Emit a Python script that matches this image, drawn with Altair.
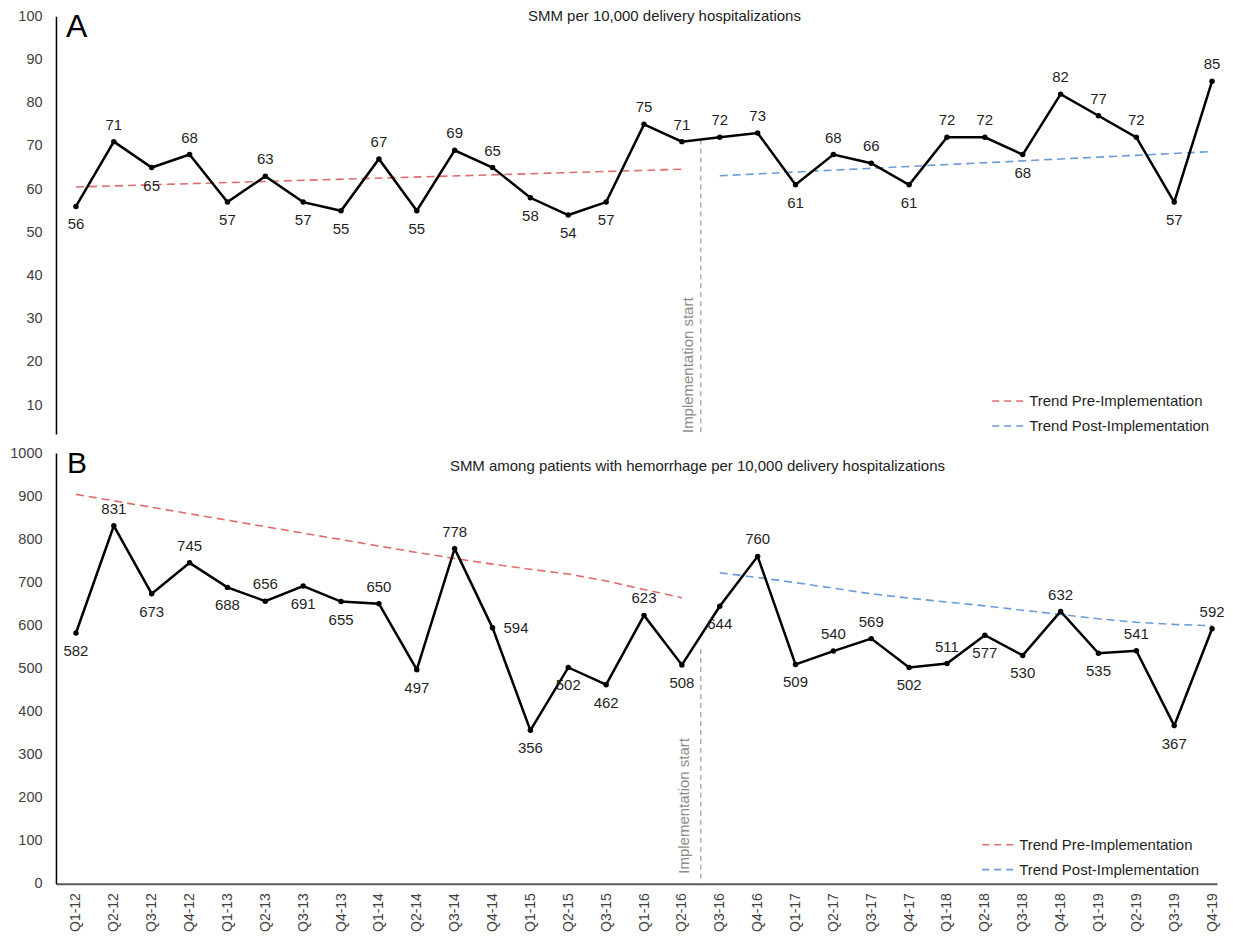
import json
import altair as alt
import pandas as pd

# ---------------- data ----------------
quarters = ["Q1-12", "Q2-12", "Q3-12", "Q4-12", "Q1-13", "Q2-13", "Q3-13", "Q4-13",
            "Q1-14", "Q2-14", "Q3-14", "Q4-14", "Q1-15", "Q2-15", "Q3-15", "Q1-16",
            "Q2-16", "Q3-16", "Q4-16", "Q1-17", "Q2-17", "Q3-17", "Q4-17", "Q1-18",
            "Q2-18", "Q3-18", "Q4-18", "Q1-19", "Q2-19", "Q3-19", "Q4-19"]

smm = [56, 71, 65, 68, 57, 63, 57, 55, 67, 55, 69, 65, 58, 54, 57, 75,
       71, 72, 73, 61, 68, 66, 61, 72, 72, 68, 82, 77, 72, 57, 85]
smm_label_side = ["below", "above", "below", "above", "below", "above", "below", "below",
                  "above", "below", "above", "above", "below", "below", "below", "above",
                  "above", "above", "above", "below", "above", "above", "below", "above",
                  "above", "below", "above", "above", "above", "below", "above"]

hem = [582, 831, 673, 745, 688, 656, 691, 655, 650, 497, 778, 594, 356, 502, 462, 623,
       508, 644, 760, 509, 540, 569, 502, 511, 577, 530, 632, 535, 541, 367, 592]
hem_label_side = ["below", "above", "below", "above", "below", "above", "below", "below",
                  "above", "below", "above", "right", "below", "below", "below", "above",
                  "below", "below", "above", "below", "above", "above", "below", "above",
                  "below", "below", "above", "below", "above", "below", "above"]

trend_pre_a_q = ["Q1-12", "Q2-16"]
trend_pre_a = [60.5, 64.6]
trend_post_a_q = ["Q3-16", "Q4-19"]
trend_post_a = [63.1, 68.7]

trend_pre_b_q = quarters[0:17]
trend_pre_b = [904, 889, 874, 859, 844, 829, 814, 799, 784, 769, 755, 742, 730, 719, 703, 683, 664]
trend_post_b_q = quarters[17:31]
trend_post_b = [722, 711, 699, 686, 673, 663, 654, 645, 635, 625, 615, 607, 602, 599]

impl_last_pre = "Q2-16"
impl_first_post = "Q3-16"

title_a = "SMM per 10,000 delivery hospitalizations"
title_b = "SMM among patients with hemorrhage per 10,000 delivery hospitalizations"
legend_labels = ["Trend Pre-Implementation", "Trend Post-Implementation"]

# ---------------- styling ----------------
FONT = "Liberation Sans"
RED = "#e06c6c"
BLUE = "#6a9bd8"
GRAY = "#a3a3a3"
W = 1162


def qidx(q):
    return quarters.index(q)


impl_x = (qidx(impl_last_pre) + qidx(impl_first_post)) / 2

x_scale = alt.Scale(domain=[-0.528, 30.13], nice=False, zero=False)


def x_enc(show_axis):
    if show_axis:
        axis = alt.Axis(
            values=list(range(len(quarters))),
            labelExpr=json.dumps(quarters) + "[datum.value]",
            labelAngle=-90, labelPadding=9, labelFontSize=14, labelColor="#404040",
            ticks=False, tickSize=0, grid=False, domainColor="#595959", domainWidth=2,
            labelOverlap=False, labelFlush=False, labelBound=False, title=None,
        )
    else:
        axis = None
    return alt.X("idx:Q", scale=x_scale, axis=axis)


def y_enc(domain, ticks):
    return alt.Y(
        "val:Q",
        scale=alt.Scale(domain=domain, nice=False, zero=False),
        axis=alt.Axis(values=ticks, format="d", ticks=False, tickSize=0, grid=False,
                      domainColor="black", domainWidth=1.5, labelPadding=14,
                      labelFontSize=14.5, labelColor="#404040", title=None),
    )


def panel(values, sides, pre_q, pre_v, post_q, post_v, domain, ticks, height,
          impl_top, impl_dx, impl_dy, letter, letter_size, letter_x, letter_y,
          title, title_x, title_y, leg_x, leg_y, show_x):
    X = x_enc(show_x)
    Y = y_enc(domain, ticks)

    df = pd.DataFrame({"idx": [qidx(q) for q in quarters], "val": values, "side": sides})
    pre_df = pd.DataFrame({"idx": [qidx(q) for q in pre_q], "val": pre_v})
    post_df = pd.DataFrame({"idx": [qidx(q) for q in post_q], "val": post_v})
    impl_df = pd.DataFrame({"idx": [impl_x], "val": [impl_top], "val2": [domain[0]]})
    impl_txt = pd.DataFrame({"idx": [impl_x], "val": [domain[0]]})

    layers = []
    layers.append(alt.Chart(pre_df).mark_line(color=RED, strokeDash=[8, 5], strokeWidth=1.6)
                  .encode(x=X, y=Y))
    layers.append(alt.Chart(post_df).mark_line(color=BLUE, strokeDash=[8, 5], strokeWidth=1.6)
                  .encode(x=X, y=Y))
    layers.append(alt.Chart(impl_df).mark_rule(color=GRAY, strokeDash=[5, 4], strokeWidth=1.3)
                  .encode(x=X, y=Y, y2="val2:Q"))
    layers.append(alt.Chart(impl_txt).mark_text(
        text="Implementation start", angle=270, align="left", baseline="bottom",
        dx=impl_dx, dy=impl_dy, fontSize=15, color="#8c8c8c")
        .encode(x=X, y=Y))
    layers.append(alt.Chart(df).mark_line(color="black", strokeWidth=2.5).encode(x=X, y=Y))
    layers.append(alt.Chart(df).mark_point(filled=True, color="black", size=30, opacity=1)
                  .encode(x=X, y=Y))
    for side, kw in [("above", dict(dy=-17)), ("below", dict(dy=18)),
                     ("right", dict(dx=11, align="left"))]:
        base_kw = dict(fontSize=15, color="#1f1f1f", baseline="middle")
        if "align" not in kw:
            base_kw["align"] = "center"
        base_kw.update(kw)
        layers.append(alt.Chart(df).transform_filter(alt.datum.side == side)
                      .mark_text(**base_kw)
                      .encode(x=X, y=Y, text=alt.Text("val:Q", format="d")))
    one = alt.Data(values=[{}])
    layers.append(alt.Chart(one).mark_text(text=letter, fontSize=letter_size, align="left",
                                           baseline="top", color="black")
                  .encode(x=alt.value(letter_x), y=alt.value(letter_y)))
    layers.append(alt.Chart(one).mark_text(text=title, fontSize=15, align="center",
                                           baseline="middle", color="#222222")
                  .encode(x=alt.value(title_x), y=alt.value(title_y)))
    for i, (lab, col) in enumerate(zip(legend_labels, [RED, BLUE])):
        yy = leg_y + 25 * i
        layers.append(alt.Chart(one).mark_rule(color=col, strokeDash=[7, 5], strokeWidth=1.6)
                      .encode(x=alt.value(leg_x), x2=alt.value(leg_x + 33), y=alt.value(yy)))
        layers.append(alt.Chart(one).mark_text(text=lab, fontSize=15, align="left",
                                               baseline="middle", color="#1f1f1f")
                      .encode(x=alt.value(leg_x + 37), y=alt.value(yy)))
    return alt.layer(*layers).properties(width=W, height=height)


chart_a = panel(smm, smm_label_side, trend_pre_a_q, trend_pre_a, trend_post_a_q, trend_post_a,
                [3.3, 100], list(range(10, 101, 10)), 418,
                impl_top=71.5, impl_dx=1, impl_dy=-5,
                letter="A", letter_size=32, letter_x=10, letter_y=-4,
                title=title_a, title_x=609, title_y=0,
                leg_x=937, leg_y=385, show_x=False)

chart_b = panel(hem, hem_label_side, trend_pre_b_q, trend_pre_b, trend_post_b_q, trend_post_b,
                [0, 1000], list(range(0, 1001, 100)), 431,
                impl_top=545, impl_dx=10, impl_dy=-9,
                letter="B", letter_size=30, letter_x=11, letter_y=-4,
                title=title_b, title_x=642, title_y=13,
                leg_x=927, leg_y=392, show_x=True)

chart = (
    alt.vconcat(chart_a, chart_b, spacing=19, bounds="flush")
    .properties(padding={"left": 1, "top": 0, "right": 0, "bottom": 0})
    .configure(font=FONT)
    .configure_view(stroke=None)
)

chart.save("out.html", embed_options={"renderer": "svg", "actions": False})
